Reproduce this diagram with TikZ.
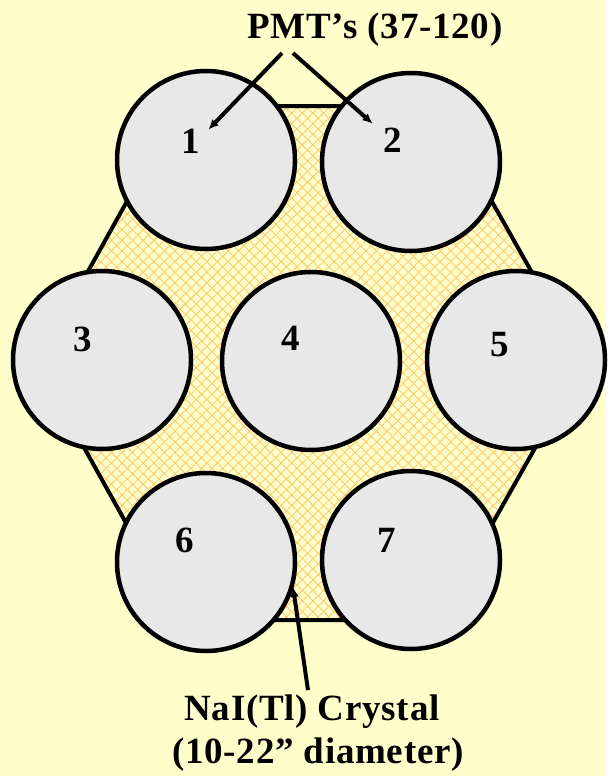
\documentclass[tikz,border=0pt]{standalone}
\usepackage{fontspec}
\setmainfont{Liberation Serif}
\usetikzlibrary{patterns.meta,arrows.meta}
\definecolor{paper}{HTML}{FFFFCC}
\definecolor{hatch}{HTML}{FCCB73}
\definecolor{pmtgray}{HTML}{E8E8E8}

\tikzset{
  pmt/.style={circle, draw=black, line width=4.5pt, fill=pmtgray, minimum size=178pt, inner sep=0pt},
  num/.style={font=\fontsize{37}{43}\selectfont\bfseries, inner sep=0pt},
  lbl/.style={font=\fontsize{37}{43}\selectfont\bfseries\addfontfeature{LetterSpace=2}, inner sep=0pt, anchor=base},
  crystal/.style={draw=black, line width=4pt, line join=miter, pattern={Hatch[angle=45, distance=7.5pt, line width=0.9pt]}, pattern color=hatch},
  pointer/.style={line width=4pt, -{Latex[length=10pt, width=9pt]}}
}

\begin{document}
\begin{tikzpicture}[x=1pt, y=-1pt]
\def \xl    {37};
\def \xtl   {180};
\def \xtr   {438};
\def \xr    {583};
\def \ytop  {106};
\def \ymid  {363};
\def \ybot  {620};

\fill[paper] (0,0) rectangle (606,776);

% crystal
\draw[crystal] (\xl, \ymid) -- (\xtl, \ytop) -- (\xtr, \ytop) -- (\xr, \ymid) -- (\xtr, \ybot) -- (\xtl, \ybot) -- cycle;

% tubes
\node[pmt] (p1) at (206, 160) {};
\node[pmt] (p2) at (411, 162) {};
\node[pmt] (p3) at (102, 360) {};
\node[pmt] (p4) at (311, 361) {};
\node[pmt] (p5) at (516, 360) {};
\node[pmt] (p6) at (206, 562) {};
\node[pmt] (p7) at (411, 560) {};

\node[num] (n1) at ([shift={(-15,-19)}]p1) {1};
\node[num] (n2) at ([shift={(-18,-22)}]p2) {2};
\node[num] (n3) at ([shift={(-19,-21)}]p3) {3};
\node[num] (n4) at ([shift={(-20,-23)}]p4) {4};
\node[num] (n5) at ([shift={(-16,-15)}]p5) {5};
\node[num] (n6) at ([shift={(-21,-22)}]p6) {6};
\node[num] (n7) at ([shift={(-24,-20)}]p7) {7};

% labels
\node[lbl] (pmtlbl) at (375, 38) {PMT’s (37-120)};
\node[lbl] (cry) at (312, 720) {NaI(Tl) Crystal};
\node[lbl] (dia) at ([xshift=6pt, yshift=-43pt]cry.base) {(10-22” diameter)};

\coordinate (hit) at (293, 587);

\draw[pointer] ([shift={(-93,7)}]pmtlbl.south) -- ([shift={(8,1)}]n1.north east);
\draw[pointer] ([shift={(-82,7)}]pmtlbl.south) -- ([shift={(-11,-4)}]n2.north west);
\draw[pointer] ([shift={(-4,-4)}]cry.north) -- (hit);

\end{tikzpicture}
\end{document}
